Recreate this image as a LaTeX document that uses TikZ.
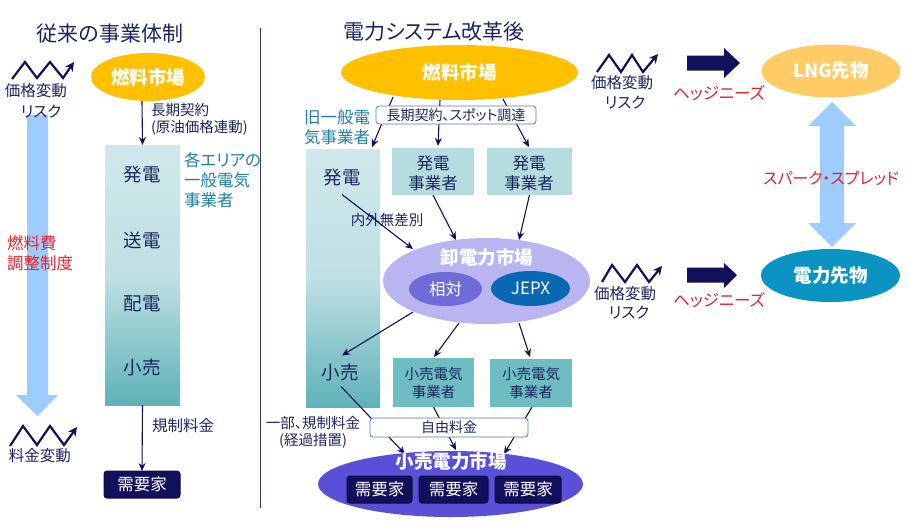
\documentclass[tikz,border=0pt]{standalone}
\usepackage{fontspec}
\setmainfont[RawFeature=+palt]{Noto Sans CJK JP}
\usetikzlibrary{arrows.meta,shapes.geometric}
\definecolor{ink}{HTML}{1C2460}
\definecolor{navy}{HTML}{12105A}
\definecolor{tealt}{HTML}{1F7FA5}
\definecolor{redt}{HTML}{E8202A}
\definecolor{skyb}{HTML}{9ECCFF}
\definecolor{gradbot}{HTML}{5FB2B8}
\definecolor{gradtop}{HTML}{D0E8EB}
\definecolor{gradmid}{HTML}{BFE0E4}
\definecolor{gold}{HTML}{FFC000}
\definecolor{goldl}{HTML}{FFCB66}
\definecolor{tilea}{HTML}{B5DDE0}
\definecolor{tileb}{HTML}{6FBDC2}
\definecolor{lilac}{HTML}{B9B5F0}
\definecolor{violet}{HTML}{6F6BD9}
\definecolor{jepx}{HTML}{0868B4}
\definecolor{retail}{HTML}{5A50D8}
\definecolor{elec}{HTML}{0B93C4}
\definecolor{rule}{HTML}{3B3580}
\newcommand{\fsz}[1]{\fontsize{#1}{#1}\selectfont}
\tikzset{
  every node/.style={inner sep=0pt,outer sep=0pt,text=ink},
  lbl/.style={font=\fsz{14.5}},
  lblm/.style={font=\fsz{15.5}},
  lblt/.style={font=\fsz{16.5}},
  stage/.style={font=\fsz{18.5}},
  ttl/.style={font=\fsz{21}},
  teallbl/.style={font=\fsz{16.5},text=tealt,anchor=west},
  redlbl/.style={font=\fsz{16.5},text=redt},
  market/.style={ellipse,text=white,font=\fsz{18.5}\bfseries},
  tall/.style={rectangle,bottom color=gradbot,top color=gradtop,middle color=gradmid},
  tile/.style={rectangle},
  cust/.style={rectangle,rounded corners=3pt,fill=navy,draw=navy!80!black,line width=1pt,text=white,font=\fsz{16.5},minimum height=27pt},
  band/.style={rectangle,rounded corners=3pt,fill=white,draw=#1,line width=.8pt,font=\fsz{14},minimum height=19pt},
  conn/.style={draw=navy,line width=1.1pt,-{Stealth[length=8pt,width=7pt]}},
  zig/.style={draw=navy,line width=2.2pt,-{Stealth[length=9pt,width=9pt]}},
}
\begin{document}
\begin{tikzpicture}[x=1pt,y=-1pt]
\useasboundingbox (0,0) rectangle (910,525);
% divider
\coordinate (ruleTop) at (260.5,28);
\coordinate (ruleBot) at (260.5,508);
\draw[rule,line width=1pt] (ruleTop) -- (ruleBot);
% left column
\node[ttl] (titleL) at (110,34) {従来の事業体制};
\node[market,minimum width=114pt,minimum height=48pt,fill=gold] (fuelL) at (148,77) {燃料市場};
\node[tall,minimum width=75pt,minimum height=260pt] (utilL) at (142.5,275) {};
\node[stage] (genL) at (142,175) {発電};
\node[stage] (trans) at (142,240) {送電};
\node[stage] (dist) at (142,304) {配電};
\node[stage] (retL) at (142,367) {小売};
\node[lbl,anchor=west] (contractA) at (151,110) {長期契約};
\node[lbl,anchor=west] (contractB) at (151,128) {(原油価格連動)};
\node[teallbl] (areaA) at (184,160) {各エリアの};
\node[teallbl] (areaB) at (184,180) {一般電気};
\node[teallbl] (areaC) at (184,200) {事業者};
\node[cust,minimum width=76pt] (custL) at (142,484.5) {需要家};
\node[lbl,font=\fsz{15.5}] (regfee) at (183,426) {規制料金};
\draw[conn] ([xshift=-6pt]fuelL.south) -- (utilL.north);
\draw[conn] (utilL.south) -- (custL.north);
% left sky arrow
\fill[skyb] (27,115) -- (48,115) -- (48,395) -- (58,395) -- (37.5,416) -- (16,395) -- (27,395) -- cycle;
\node[lblm] (riskLa) at (36,91) {価格変動};
\node[lblm] (riskLb) at (41,112) {リスク};
\node[redlbl,anchor=west] (adjA) at (7,243) {燃料費};
\node[redlbl,anchor=west] (adjB) at (7,263) {調整制度};
\node[lblm] (feeVar) at (40,456) {料金変動};
\draw[zig] (12,79) -- (25,62) -- (37,78) -- (50,62) -- (63,78) -- (74,62);
\draw[zig] (10,446) -- (23,426) -- (37,445) -- (50,426) -- (64,445) -- (77,427);
% centre column
\node[ttl] (titleC) at (434,32) {電力システム改革後};
\node[market,minimum width=237pt,minimum height=55pt,fill=gold] (fuelC) at (459.5,72.5) {燃料市場};
\node[teallbl] (oldA) at (304,117) {旧一般電};
\node[teallbl] (oldB) at (304,137) {気事業者};
\node[tall,minimum width=74pt,minimum height=258pt] (utilC) at (343,278) {};
\node[tile,fill=tilea,minimum width=82pt,minimum height=47pt] (genA) at (433,171.5) {};
\node[tile,fill=tilea,minimum width=85pt,minimum height=47pt] (genB) at (529.5,171.5) {};
\node[lblt] (genAa) at (433,163) {発電};
\node[lblt] (genAb) at (433,183) {事業者};
\node[lblt] (genBa) at (529,163) {発電};
\node[lblt] (genBb) at (529,183) {事業者};
\node[stage] (genC) at (342,178) {発電};
\node[stage] (retC) at (340,372) {小売};
% wholesale
\node[ellipse,fill=lilac,minimum width=207pt,minimum height=86pt] (whole) at (486.5,281) {};
\node[text=white,font=\fsz{18.5}\bfseries] (wholeT) at (487,257) {卸電力市場};
\node[ellipse,fill=violet,minimum width=73pt,minimum height=34pt,text=white,font=\fsz{16.5}] (rel) at (445.5,289) {相対};
\node[ellipse,fill=jepx,minimum width=79pt,minimum height=35pt,text=white,font=\fsz{17}] (jepxn) at (530.5,288.5) {JEPX};
\node[lbl] (nondisc) at (387,220) {内外無差別};
% retailers
\node[tile,fill=tileb,minimum width=81pt,minimum height=49pt] (retA) at (433.5,382.5) {};
\node[tile,fill=tileb,minimum width=82pt,minimum height=48pt] (retB) at (531,383) {};
\node[lbl] (retAa) at (433.5,374) {小売電気};
\node[lbl] (retAb) at (433.5,392) {事業者};
\node[lbl] (retBa) at (531,374) {小売電気};
\node[lbl] (retBb) at (531,392) {事業者};
% retail market
\node[ellipse,fill=retail,minimum width=265pt,minimum height=66pt] (mkt) at (450.5,484) {};
% connectors above wholesale
\draw[conn] ([xshift=-66.5pt,yshift=3pt]fuelC.south) -- ([xshift=29pt,yshift=2pt]utilC.north);
\draw[conn] ([xshift=-19.5pt]fuelC.south) -- ([xshift=5pt,yshift=2pt]genA.north);
\draw[conn] ([xshift=43.5pt,yshift=1pt]fuelC.south) -- ([xshift=-0.5pt,yshift=1pt]genB.north);
\node[band=gray!60!tealt,minimum width=160pt,minimum height=18pt] (supply) at (456,115) {長期契約、スポット調達};
\draw[conn] ([yshift=-8pt]genC.south) -- ([xshift=-73.5pt,yshift=75pt]whole.south);
\draw[conn] (genA.south) -- ([xshift=-30.5pt,yshift=-2pt]whole.north);
\draw[conn] (genB.south) -- ([xshift=32.5pt,yshift=-2pt]whole.north);
\draw[conn] ([xshift=-73.5pt,yshift=12pt]whole.south) -- ([xshift=2pt,yshift=8pt]retC.north);
\draw[conn] ([xshift=-27.5pt,yshift=1pt]whole.south) -- ([xshift=.5pt,yshift=1pt]retA.north);
\draw[conn] ([xshift=32.5pt,yshift=1pt]whole.south) -- ([xshift=-1pt,yshift=2pt]retB.north);
% connectors into retail market, under the fee band
\draw[conn] ([xshift=1pt,yshift=-6pt]retC.south) -- ([xshift=-45.5pt,yshift=-3pt]mkt.north);
\draw[conn] (retA.south) -- ([xshift=5.5pt,yshift=1pt]mkt.north);
\draw[conn] ([xshift=1pt]retB.south) -- ([xshift=53.5pt,yshift=-3pt]mkt.north);
\node[band=gray!50!tealt,minimum width=158pt,minimum height=19pt] (free) at (449,427.5) {自由料金};
\node[lbl] (partA) at (313,423) {一部、規制料金};
\node[lbl] (partB) at (313,441) {(経過措置)};
\node[text=white,font=\fsz{18.5}\bfseries] (mktT) at (451,461) {小売電力市場};
\node[cust,minimum width=65pt] (custA) at (379.5,489.5) {需要家};
\node[cust,minimum width=69pt] (custB) at (453.5,489.5) {需要家};
\node[cust,minimum width=66pt] (custC) at (528,489.5) {需要家};
% right column
\draw[zig] (597,72) -- (609,55) -- (621,72) -- (632,55) -- (643,72) -- (658,54);
\draw[zig] (602,282) -- (612,265) -- (625,282) -- (637,265) -- (649,282) -- (662,266);
\node[lblm] (riskTa) at (622,83) {価格変動};
\node[lblm] (riskTb) at (625,103) {リスク};
\node[lblm] (riskBa) at (625,294) {価格変動};
\node[lblm] (riskBb) at (629,313) {リスク};
\fill[navy] (687,55.5) -- (724,55.5) -- (724,48) -- (740,63) -- (724,78) -- (724,70.5) -- (687,70.5) -- cycle;
\fill[navy] (687,267.5) -- (724,267.5) -- (724,263) -- (737,275) -- (724,288) -- (724,282.5) -- (687,282.5) -- cycle;
\node[redlbl] (hedgeT) at (719,93) {ヘッジニーズ};
\node[redlbl] (hedgeB) at (719,300) {ヘッジニーズ};
\node[market,minimum width=139pt,minimum height=53pt,fill=goldl] (lng) at (831,71) {LNG先物};
\node[market,minimum width=139pt,minimum height=53pt,fill=elec] (powf) at (830.5,275.5) {電力先物};
\fill[skyb] (832,102) -- (856,126) -- (844,126) -- (844,223) -- (856,223) -- (832,247) -- (808,223) -- (820,223) -- (820,126) -- (808,126) -- cycle;
\node[redlbl,font=\fsz{16}] (spread) at (831,178) {スパーク・スプレッド};
\end{tikzpicture}
\end{document}
